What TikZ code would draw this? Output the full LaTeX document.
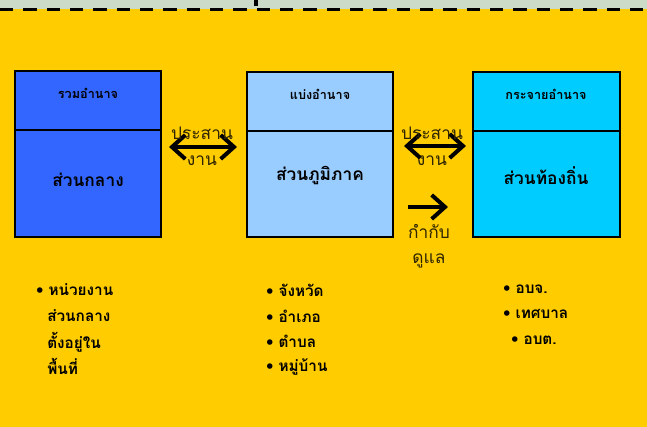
\documentclass[tikz,border=0pt]{standalone}
\usepackage{fontspec}
\newfontfamily\thaifont[Script=Thai]{Loma}
\usetikzlibrary{arrows.meta, calc}
\definecolor{bgyellow}{HTML}{FFCC00}
\definecolor{topgrey}{HTML}{CCDAC8}
\definecolor{centralblue}{HTML}{3366FF}
\definecolor{regionblue}{HTML}{99CCFF}
\definecolor{localblue}{HTML}{00CCFF}
\definecolor{labelolive}{HTML}{2E2400}

\tikzset{
	box/.style={draw=black, line width=1.4pt},
	boxtitle/.style={font=\thaifont\fontsize{9.5}{10}\selectfont\bfseries},
	boxname/.style={font=\thaifont\fontsize{13}{15}\selectfont\bfseries},
	linklabel/.style={font=\thaifont\fontsize{13}{15}\selectfont, text=labelolive, inner sep=0pt},
	barb/.tip={Straight Barb[length=10pt, width=18pt]},
	linkarrow/.style={line width=3pt, -barb},
	listitem/.style={font=\thaifont\fontsize{11.5}{13}\selectfont\bfseries, anchor=west, inner sep=0pt}
}

\begin{document}
\begin{tikzpicture}[x=0.75pt, y=-0.75pt]
	\useasboundingbox (0,0) rectangle (647,427);
	\fill [bgyellow] (0,0) rectangle (647,427);
	\fill [topgrey] (0,0) rectangle (647,9.5);
	\draw [line width=2.5pt, dash pattern=on 10pt off 7.5pt] (0,9.5) -- (647,9.5);
	\fill [black] (254,0) rectangle (258,6);

	% three boxes
	\coordinate (C1) at (15,71);
	\coordinate (C2) at (161,237);
	\coordinate (R1) at (247,72);
	\coordinate (R2) at (393,237);
	\coordinate (L1) at (473,72);
	\coordinate (L2) at (620,237);
	\draw [box, fill=centralblue] (C1) rectangle (C2);
	\draw [box] (15,130) -- (161,130);
	\draw [box, fill=regionblue] (R1) rectangle (R2);
	\draw [box] (247,131) -- (393,131);
	\draw [box, fill=localblue] (L1) rectangle (L2);
	\draw [box] (473,131) -- (620,131);

	\node (centraltitle) at (88,93) [boxtitle] {รวมอำนาจ};
	\node (centralname) at (88,180) [boxname] {ส่วนกลาง};
	\node (regiontitle) at (320,94) [boxtitle] {แบ่งอำนาจ};
	\node (regionname) at (320,176) [boxname] {ส่วนภูมิภาค};
	\node (localtitle) at (546,94) [boxtitle] {กระจายอำนาจ};
	\node (localname) at (546,176) [boxname] {ส่วนท้องถิ่น};

	% links between the boxes
	\coordinate (a1) at (169,147);
	\coordinate (a2) at (237,147);
	\coordinate (b1) at (404,146);
	\coordinate (b2) at (466,146);
	\coordinate (c1) at (408,207);
	\coordinate (c2) at (448,207);
	\draw [linkarrow, barb-barb] (a1) -- (a2);
	\draw [linkarrow, barb-barb] (b1) -- (b2);
	\draw [linkarrow] (c1) -- (c2);
	\node (coop1a) at (202,133) [linklabel] {ประสาน};
	\node (coop1b) at (202,161) [linklabel] {งาน};
	\node (coop2a) at (432,133) [linklabel] {ประสาน};
	\node (coop2b) at (432,161) [linklabel] {งาน};
	\node (superva) at (429,231) [linklabel] {กำกับ};
	\node (supervb) at (429,261) [linklabel] {ดูแล};

	% lists under the boxes
	\node (central1) at (36,290) [listitem] {• หน่วยงาน};
	\node (central2) at (47,316) [listitem] {ส่วนกลาง};
	\node (central3) at (47,342) [listitem] {ตั้งอยู่ใน};
	\node (central4) at (47,366) [listitem] {พื้นที่};
	\node (region1) at (266,290) [listitem] {• จังหวัด};
	\node (region2) at (266,316) [listitem] {• อำเภอ};
	\node (region3) at (266,341) [listitem] {• ตำบล};
	\node (region4) at (266,367) [listitem] {• หมู่บ้าน};
	\node (local1) at (503,289) [listitem] {• อบจ.};
	\node (local2) at (503,314) [listitem] {• เทศบาล};
	\node (local3) at (511,340) [listitem] {• อบต.};
\end{tikzpicture}
\end{document}
